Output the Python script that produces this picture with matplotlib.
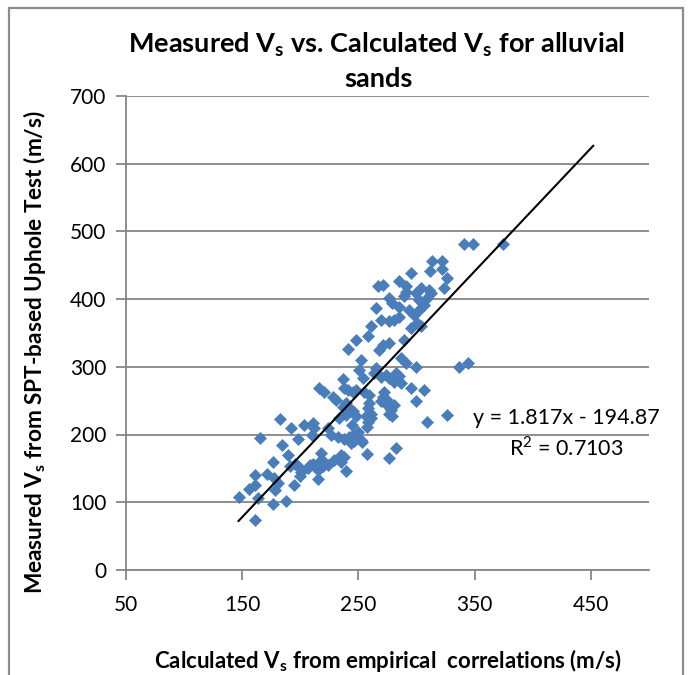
import matplotlib
matplotlib.use("Agg")
import matplotlib.pyplot as plt
from matplotlib.patches import Rectangle

plt.rcParams['font.family'] = ['Lato', 'DejaVu Sans']
plt.rcParams['mathtext.fontset'] = 'custom'
plt.rcParams['mathtext.rm'] = 'Lato'
plt.rcParams['mathtext.bf'] = 'Lato:bold'

# Calculated Vs (x) and measured Vs (y)
calc_vs = [
    147.1, 160.8, 160.8, 155.7, 161.4, 163.7, 165.1, 171.7, 177.4, 176.5,
    176.5, 178.5, 180.8, 183.1, 184.3, 188.0, 189.4, 192.3, 195.1, 198.5,
    191.7, 195.7, 198.5, 200.8, 200.3, 203.7, 210.0, 211.7, 208.8, 207.1,
    210.8, 215.7, 218.0, 216.6, 220.8, 223.7, 219.4, 215.1, 223.7, 226.6,
    229.4, 235.1, 238.0, 235.1, 232.3, 238.0, 242.3, 245.1, 243.7, 246.6,
    239.4, 252.3, 257.4, 249.4, 253.6, 245.0, 257.9, 276.5, 282.2,
    269.4, 276.6, 280.9, 285.1, 279.4, 285.1, 289.4, 293.7, 298.0, 302.3,
    306.6, 309.4, 312.3, 295.1, 300.9, 303.7, 260.8, 258.0, 248.0, 240.8,
    268.0, 270.9, 276.6, 289.4, 286.6, 290.9, 299.4, 252.3, 250.8, 265.1,
    263.7, 253.7, 282.3, 285.1, 276.6, 280.9, 286.6, 216.5, 220.8, 236.6,
    238.0, 240.8, 245.1, 248.0, 255.1, 259.4, 272.3, 270.9, 275.1, 295.1,
    306.6, 299.4, 228.0, 230.8, 239.4, 236.6, 242.3, 245.1, 248.0, 259.4,
    258.0, 260.8, 269.4, 275.1, 278.0, 280.9, 256.6, 260.8, 258.0, 276.6,
    279.4, 309.4, 326.6, 210.8, 265.1,
    336.5, 344.5, 269.4, 273.7, 233.6, 239.4,
    340.9, 348.9, 374.7, 313.8, 322.4, 311.8, 322.4, 326.6, 295.2, 284.6,
    290.9, 266.6, 270.9, 290.9, 303.8, 310.9, 323.8, 276.6, 302.3, 299.4,
]
meas_vs = [
    108, 74, 140, 120, 125, 106, 195, 141, 136, 160,
    97, 118, 128, 223, 184, 102, 170, 210, 125, 193,
    153, 157, 153, 145, 138, 214, 199, 210, 155, 150,
    157, 134, 172, 160, 160, 155, 153, 148, 209, 199,
    162, 170, 167, 160, 197, 194, 197, 199, 187, 190,
    146, 192, 171, 204, 189, 214, 211, 165, 180,
    369, 367, 369, 374, 394, 389, 404, 384, 377, 384,
    391, 401, 409, 357, 364, 360, 360, 345, 340, 326,
    325, 332, 335, 340, 313, 305, 300, 310, 296, 298,
    291, 283, 291, 286, 283, 278, 276, 268, 263, 282,
    268, 266, 263, 266, 263, 259, 263, 256, 251, 268,
    266, 249, 256, 251, 246, 241, 239, 234, 227, 246,
    239, 231, 249, 244, 236, 244, 227, 224, 219, 231,
    227, 219, 229, 217, 387,
    299, 306, 285, 288, 224, 229,
    482, 482, 482, 456, 456, 441, 444, 431, 438, 427,
    420, 419, 421, 410, 416, 414, 416, 401, 399, 409,
]

trend_x = [147, 452]
slope, intercept = 1.817, -194.87
trend_y = [slope * v + intercept for v in trend_x]

x_ticks = [50, 150, 250, 350, 450]
y_ticks = [0, 100, 200, 300, 400, 500, 600, 700]

W, H = 689, 675
fig = plt.figure(figsize=(W / 100, H / 100), dpi=100)
left, right, top, bottom = 125.7, 649.0, 96.0, 569.9
ax = fig.add_axes([left / W, 1 - bottom / H, (right - left) / W, (bottom - top) / H])

grey = '#868686'
ax.set_xlim(50, 500)
ax.set_ylim(0, 700)
ax.set_xticks(x_ticks)
ax.set_yticks(y_ticks)
ax.yaxis.grid(True, color=grey, linewidth=1.3)
ax.set_axisbelow(True)
for s in ['top', 'right']:
    ax.spines[s].set_visible(False)
for s in ['left', 'bottom']:
    ax.spines[s].set_color(grey)
    ax.spines[s].set_linewidth(1.3)
ax.tick_params(axis='both', direction='out', length=7, width=1.3, color=grey,
               labelsize=15, labelcolor='black')
ax.tick_params(axis='x', pad=11)
ax.tick_params(axis='y', pad=7)

ax.plot(calc_vs, meas_vs, linestyle='none', marker='D', markersize=5.8,
        color='#4A7EBB', markeredgecolor='#4A7EBB', markeredgewidth=0.5, zorder=3)
ax.plot(trend_x, trend_y, color='black', linewidth=1.5, zorder=4)

ax.text(566 / W, 1 - 418 / H, 'y = 1.817x - 194.87', transform=fig.transFigure,
        ha='center', va='center', fontsize=15.5)
ax.text(566 / W, 1 - 448 / H, 'R$^{2}$ = 0.7103', transform=fig.transFigure,
        ha='center', va='center', fontsize=15.5)

fig.text(377 / W, 1 - 45 / H, r'Measured V$_\mathbf{s}$ vs. Calculated V$_\mathbf{s}$ for alluvial',
         ha='center', va='center', fontsize=19.5, fontweight='bold')
fig.text(378 / W, 1 - 79 / H, 'sands', ha='center', va='center', fontsize=19.5, fontweight='bold')

fig.text(388 / W, 1 - 660 / H, r'Calculated V$_\mathbf{s}$ from empirical  correlations (m/s)',
         ha='center', va='center', fontsize=16, fontweight='bold')
fig.text(35 / W, 1 - 352 / H, r'Measured V$_\mathbf{s}$ from SPT-based Uphole Test (m/s)',
         ha='center', va='center', fontsize=16.3, fontweight='bold', rotation=90)

fig.patches.append(Rectangle((9 / W, -0.05), (683 - 9) / W, 1 - 8 / H + 0.05,
                             transform=fig.transFigure, fill=False,
                             edgecolor='#8c8c8c', linewidth=1.6))

fig.savefig('out.png', dpi=100)
